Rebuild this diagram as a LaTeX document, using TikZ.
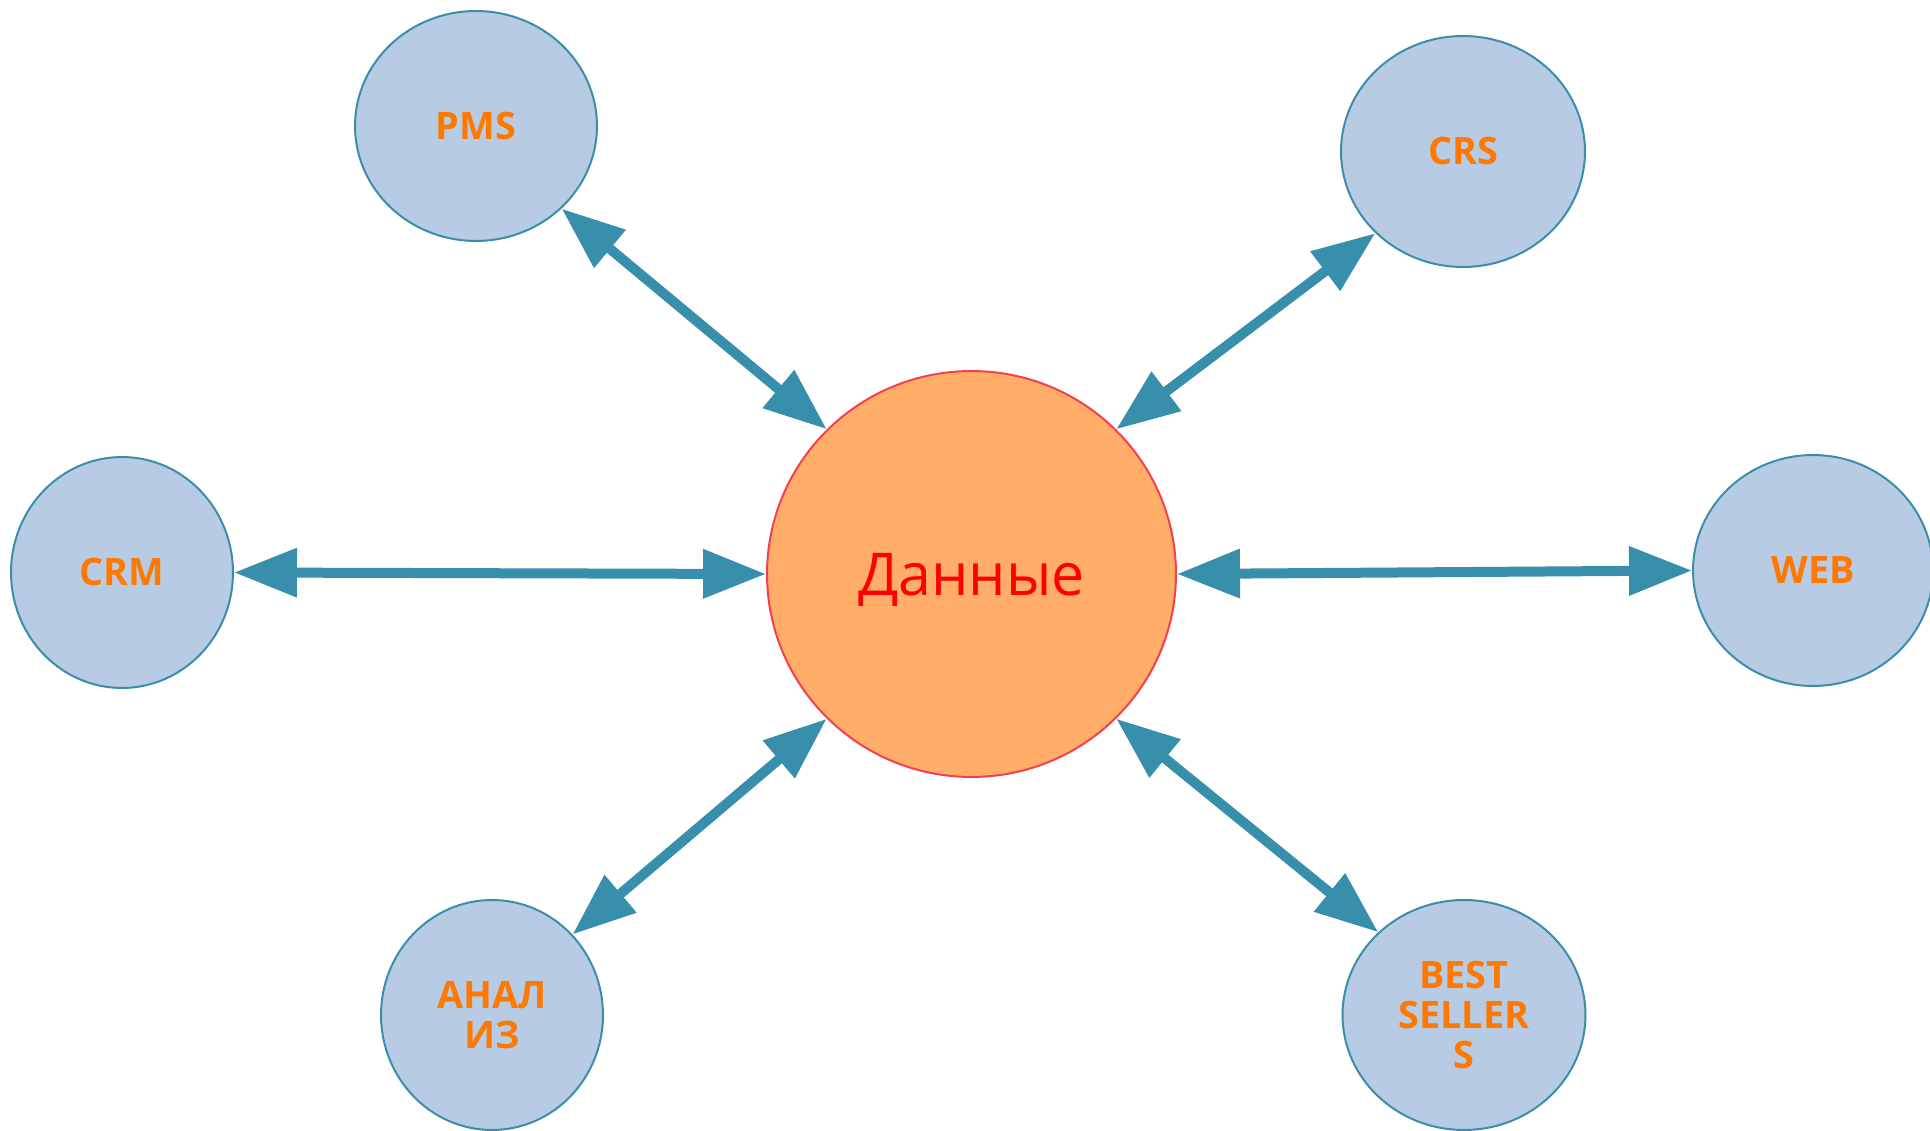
\documentclass[tikz,border=0pt]{standalone}
\usepackage{fontspec}
\setmainfont{Open Sans}
\usetikzlibrary{shapes.geometric,arrows.meta}
\definecolor{smallfill}{HTML}{B7CCE4}
\definecolor{smallborder}{HTML}{3C8EA8}
\definecolor{arrowc}{HTML}{378FAB}
\definecolor{datafill}{HTML}{FFAD69}
\definecolor{databorder}{HTML}{F2404E}
\definecolor{labelc}{HTML}{FF7800}
\definecolor{datatext}{HTML}{FF0000}
\tikzset{
  sysnode/.style={ellipse, draw=smallborder, fill=smallfill, line width=0.04cm,
    inner sep=0pt, align=center, text=labelc,
    font=\fontsize{21.5}{22.8}\selectfont\bfseries},
  datanode/.style={ellipse, draw=databorder, fill=datafill, line width=0.04cm,
    inner sep=0pt, text=datatext, text depth=0pt, font=\fontsize{33.6}{40}\selectfont},
  conn/.style={draw=arrowc, line width=0.2cm,
    {Triangle[length=1.26cm,width=0.94cm]}-{Triangle[length=1.26cm,width=0.94cm]}}
}
\begin{document}
\begin{tikzpicture}[x=0.02cm,y=-0.02cm]
\useasboundingbox (0,0) rectangle (1930,1131);
\node[datanode, minimum width=8.18cm, minimum height=8.12cm] (data) at (971.5,574) {Данные};
\node[sysnode, minimum width=4.84cm, minimum height=4.60cm] (pms) at (476,126) {PMS};
\node[sysnode, minimum width=4.88cm, minimum height=4.62cm] (crs) at (1463,151.5) {CRS};
\node[sysnode, minimum width=4.44cm, minimum height=4.62cm] (crm) at (122,572.5) {CRM};
\node[sysnode, minimum width=4.80cm, minimum height=4.62cm] (web) at (1813,570.5) {WEB};
\node[sysnode, minimum width=4.44cm, minimum height=4.60cm] (analiz) at (492,1015) {АНАЛ\\ИЗ};
\node[sysnode, minimum width=4.86cm, minimum height=4.60cm] (best) at (1464,1015) {BEST\\SELLER\\S};
\draw[conn] (pms.-44) -- (data.135);
\draw[conn] (crs.223.5) -- (data.45);
\draw[conn] (crm.0) -- (data.180);
\draw[conn] (data.0) -- (web.180);
\draw[conn] (analiz.45.7) -- (data.225);
\draw[conn] (data.-45) -- (best.136.3);
\end{tikzpicture}
\end{document}
